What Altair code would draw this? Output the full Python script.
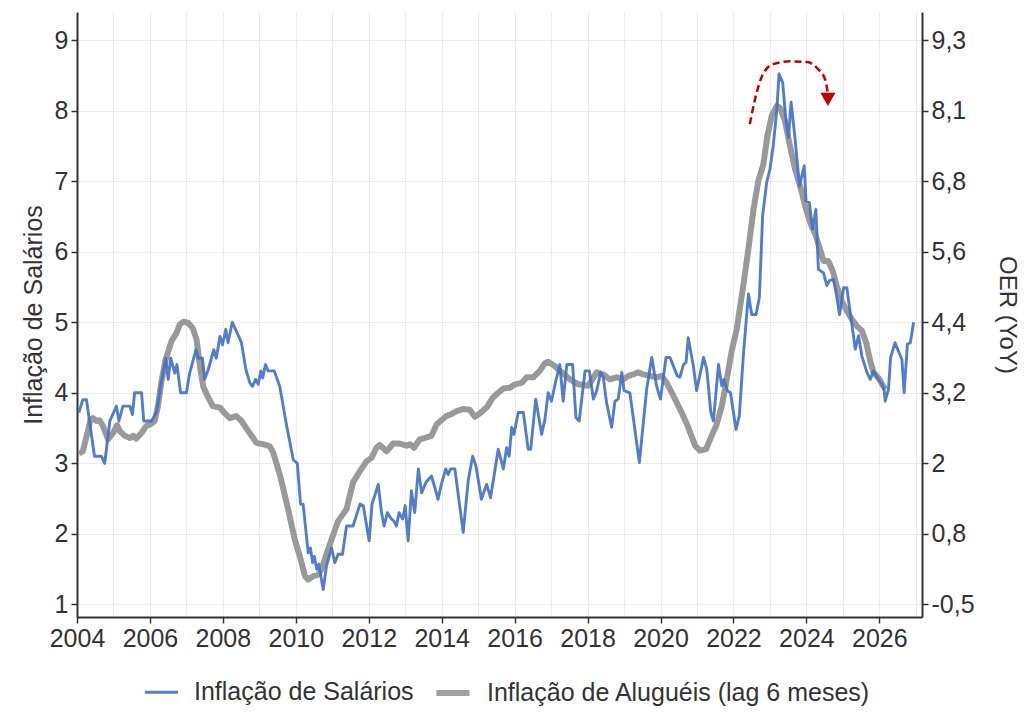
import altair as alt
import pandas as pd

S1 = "Inflação de Salários"
S2 = "Inflação de Aluguéis (lag 6 meses)"

# Wage inflation (left axis), (year, value)
BLUE = [
    (2004.05, 3.72), (2004.16, 3.90), (2004.26, 3.90), (2004.48, 3.10), (2004.67, 3.10), (2004.76, 3.00),
    (2004.90, 3.60), (2005.08, 3.81), (2005.15, 3.60), (2005.26, 3.81), (2005.45, 3.81), (2005.52, 3.69),
    (2005.58, 4.00), (2005.77, 4.00), (2005.83, 3.60), (2006.04, 3.60), (2006.18, 3.72), (2006.31, 4.14),
    (2006.43, 4.49), (2006.50, 4.19), (2006.57, 4.49), (2006.68, 4.28), (2006.74, 4.40), (2006.84, 4.00),
    (2007.00, 4.00), (2007.09, 4.28), (2007.26, 4.61), (2007.32, 4.49), (2007.44, 4.49), (2007.50, 4.19),
    (2007.60, 4.33), (2007.75, 4.61), (2007.82, 4.49), (2007.92, 4.80), (2007.99, 4.68), (2008.08, 4.90),
    (2008.14, 4.71), (2008.26, 5.00), (2008.51, 4.71), (2008.63, 4.33), (2008.74, 4.14), (2008.81, 4.09),
    (2008.90, 4.19), (2008.97, 4.12), (2009.04, 4.31), (2009.09, 4.21), (2009.17, 4.40), (2009.24, 4.31),
    (2009.41, 4.31), (2009.56, 4.09), (2009.75, 3.53), (2009.93, 3.05), (2010.04, 3.00), (2010.13, 2.42),
    (2010.20, 2.42), (2010.34, 1.73), (2010.40, 1.80), (2010.46, 1.59), (2010.51, 1.68), (2010.57, 1.50),
    (2010.63, 1.57), (2010.75, 1.21), (2010.84, 1.54), (2010.98, 1.80), (2011.07, 1.59), (2011.16, 1.71),
    (2011.28, 1.71), (2011.39, 2.11), (2011.57, 2.11), (2011.76, 2.42), (2011.85, 2.40), (2012.01, 1.90),
    (2012.09, 2.42), (2012.26, 2.70), (2012.35, 2.30), (2012.42, 2.11), (2012.51, 2.30), (2012.62, 2.21),
    (2012.69, 2.18), (2012.76, 2.11), (2012.83, 2.30), (2012.93, 2.21), (2013.00, 2.40), (2013.08, 1.90),
    (2013.17, 2.61), (2013.26, 2.30), (2013.36, 2.92), (2013.45, 2.58), (2013.57, 2.73), (2013.72, 2.82),
    (2013.81, 2.66), (2013.90, 2.49), (2013.98, 2.68), (2014.11, 2.92), (2014.18, 2.84), (2014.24, 2.92),
    (2014.36, 2.92), (2014.59, 2.02), (2014.73, 2.77), (2014.85, 3.10), (2014.94, 2.96), (2015.09, 2.49),
    (2015.23, 2.70), (2015.34, 2.51), (2015.55, 3.20), (2015.69, 2.92), (2015.78, 3.22), (2015.85, 3.10),
    (2015.92, 3.51), (2015.98, 3.41), (2016.10, 3.72), (2016.24, 3.72), (2016.37, 3.20), (2016.44, 3.20),
    (2016.58, 3.91), (2016.74, 3.41), (2016.83, 3.62), (2016.92, 4.00), (2017.01, 3.88), (2017.13, 4.17),
    (2017.24, 4.40), (2017.33, 3.88), (2017.43, 4.40), (2017.59, 4.40), (2017.68, 3.65), (2017.77, 3.60),
    (2017.93, 4.31), (2018.05, 4.31), (2018.16, 3.91), (2018.25, 4.03), (2018.36, 4.29), (2018.43, 4.22),
    (2018.52, 3.86), (2018.66, 3.51), (2018.75, 3.88), (2018.84, 3.91), (2018.94, 4.29), (2019.00, 4.03),
    (2019.16, 4.00), (2019.42, 3.01), (2019.62, 4.05), (2019.76, 4.50), (2019.89, 4.10), (2020.00, 3.91),
    (2020.15, 4.50), (2020.26, 4.50), (2020.46, 4.24), (2020.53, 4.22), (2020.63, 4.40), (2020.70, 4.43),
    (2020.76, 4.78), (2020.90, 4.38), (2020.99, 4.03), (2021.18, 4.50), (2021.27, 4.33), (2021.38, 3.72),
    (2021.45, 3.60), (2021.59, 4.40), (2021.68, 4.10), (2021.74, 4.19), (2021.83, 4.03), (2021.92, 4.00),
    (2022.07, 3.48), (2022.16, 3.67), (2022.27, 4.52), (2022.41, 5.40), (2022.50, 5.11), (2022.62, 5.11),
    (2022.71, 5.35), (2022.80, 6.51), (2022.91, 6.98), (2023.00, 7.17), (2023.09, 7.50), (2023.19, 8.02),
    (2023.25, 8.52), (2023.35, 8.40), (2023.44, 7.86), (2023.51, 7.62), (2023.58, 8.12), (2023.69, 7.60),
    (2023.81, 6.93), (2023.94, 7.22), (2023.99, 6.72), (2024.08, 6.70), (2024.17, 6.32), (2024.26, 6.60),
    (2024.33, 5.75), (2024.47, 5.70), (2024.56, 5.52), (2024.63, 5.59), (2024.74, 5.61), (2024.83, 5.37),
    (2024.91, 5.11), (2025.02, 5.49), (2025.11, 5.49), (2025.20, 5.14), (2025.29, 4.81), (2025.34, 4.62),
    (2025.43, 4.81), (2025.52, 4.52), (2025.66, 4.29), (2025.75, 4.19), (2025.84, 4.31), (2025.95, 4.21),
    (2026.05, 4.14), (2026.13, 4.05), (2026.16, 3.88), (2026.25, 4.05), (2026.31, 4.50), (2026.43, 4.71),
    (2026.62, 4.47), (2026.68, 4.00), (2026.77, 4.69), (2026.85, 4.71), (2026.94, 5.00),
]

# Rent inflation, lagged 6 months (read in left-axis units), (year, value)
GRAY = [
    (2004.05, 3.14), (2004.16, 3.17), (2004.30, 3.46), (2004.37, 3.62), (2004.44, 3.64), (2004.53, 3.60),
    (2004.62, 3.61), (2004.71, 3.53), (2004.85, 3.34), (2004.99, 3.43), (2005.10, 3.54), (2005.17, 3.46),
    (2005.31, 3.39), (2005.45, 3.36), (2005.54, 3.39), (2005.63, 3.35), (2005.77, 3.43), (2005.90, 3.53),
    (2006.04, 3.56), (2006.13, 3.60), (2006.22, 3.81), (2006.31, 4.14), (2006.43, 4.47), (2006.59, 4.73),
    (2006.73, 4.85), (2006.82, 4.97), (2006.93, 5.01), (2007.05, 4.99), (2007.17, 4.92), (2007.28, 4.75),
    (2007.37, 4.38), (2007.46, 4.09), (2007.60, 3.93), (2007.73, 3.81), (2007.92, 3.79), (2008.05, 3.71),
    (2008.19, 3.64), (2008.37, 3.67), (2008.51, 3.60), (2008.69, 3.46), (2008.83, 3.36), (2008.92, 3.29),
    (2009.10, 3.27), (2009.29, 3.24), (2009.38, 3.15), (2009.56, 2.84), (2009.67, 2.61), (2009.84, 2.23),
    (2009.97, 1.92), (2010.11, 1.68), (2010.25, 1.40), (2010.34, 1.35), (2010.48, 1.40), (2010.61, 1.42),
    (2010.71, 1.50), (2010.84, 1.71), (2010.98, 1.92), (2011.16, 2.18), (2011.39, 2.35), (2011.57, 2.73),
    (2011.76, 2.89), (2011.94, 3.03), (2012.08, 3.08), (2012.21, 3.22), (2012.30, 3.26), (2012.49, 3.17),
    (2012.67, 3.28), (2012.85, 3.28), (2013.04, 3.25), (2013.13, 3.27), (2013.24, 3.22), (2013.40, 3.34),
    (2013.54, 3.36), (2013.72, 3.39), (2013.86, 3.55), (2013.99, 3.61), (2014.13, 3.67), (2014.27, 3.70),
    (2014.41, 3.74), (2014.59, 3.77), (2014.77, 3.76), (2014.91, 3.66), (2015.05, 3.71), (2015.23, 3.79),
    (2015.40, 3.93), (2015.55, 4.00), (2015.69, 4.06), (2015.87, 4.07), (2016.01, 4.12), (2016.19, 4.14),
    (2016.33, 4.22), (2016.51, 4.22), (2016.69, 4.31), (2016.83, 4.42), (2016.92, 4.44), (2017.10, 4.38),
    (2017.29, 4.29), (2017.52, 4.19), (2017.75, 4.12), (2018.02, 4.10), (2018.25, 4.29), (2018.43, 4.26),
    (2018.61, 4.19), (2018.80, 4.22), (2018.98, 4.19), (2019.12, 4.24), (2019.25, 4.26), (2019.39, 4.29),
    (2019.53, 4.26), (2019.71, 4.24), (2019.89, 4.22), (2020.03, 4.24), (2020.17, 4.14), (2020.35, 3.96),
    (2020.58, 3.72), (2020.76, 3.51), (2020.95, 3.25), (2021.08, 3.18), (2021.25, 3.20), (2021.40, 3.39),
    (2021.54, 3.55), (2021.68, 3.81), (2021.80, 4.14), (2021.95, 4.59), (2022.09, 4.90), (2022.27, 5.52),
    (2022.41, 6.04), (2022.55, 6.60), (2022.68, 7.00), (2022.82, 7.24), (2022.93, 7.64), (2023.05, 7.93),
    (2023.19, 8.07), (2023.28, 8.04), (2023.41, 7.86), (2023.53, 7.55), (2023.69, 7.17), (2023.85, 6.89),
    (2023.99, 6.60), (2024.12, 6.39), (2024.24, 6.25), (2024.36, 6.06), (2024.47, 5.87), (2024.60, 5.87),
    (2024.72, 5.73), (2024.83, 5.52), (2024.97, 5.30), (2025.11, 5.16), (2025.25, 5.04), (2025.38, 4.95),
    (2025.52, 4.88), (2025.64, 4.71), (2025.75, 4.45), (2025.84, 4.29), (2025.98, 4.21), (2026.10, 4.10),
    (2026.16, 4.05),
]

# Right axis (OER YoY) labels at left-axis ticks 1..9
LEFT_TICKS = [1, 2, 3, 4, 5, 6, 7, 8, 9]
OER_LABELS = ["-0,5", "0,8", "2", "3,2", "4,4", "5,6", "6,8", "8,1", "9,3"]

# Dashed arrow annotation (year, value)
ARROW = [(2022.45, 7.81), (2022.59, 8.16), (2022.81, 8.52), (2023.09, 8.66), (2023.55, 8.70),
         (2024.02, 8.69), (2024.32, 8.59), (2024.51, 8.45), (2024.59, 8.24)]
ARROW_HEAD = [(2024.59, 8.16)]

X_DOMAIN = [2004, 2027.17]
Y_DOMAIN = [0.82, 9.4]
FONT = "Liberation Sans"
TXT = "#333333"

blue_df = pd.DataFrame(BLUE, columns=["ano", "valor"])
blue_df["serie"] = S1
gray_df = pd.DataFrame(GRAY, columns=["ano", "valor"])
gray_df["serie"] = S2
arrow_df = pd.DataFrame(ARROW, columns=["ano", "valor"])
head_df = pd.DataFrame(ARROW_HEAD, columns=["ano", "valor"])

x_enc = alt.X(
    "ano:Q",
    scale=alt.Scale(domain=X_DOMAIN, nice=False, zero=False),
    axis=alt.Axis(
        values=list(range(2004, 2028)),
        format="d",
        labelExpr="datum.value % 2 === 0 ? datum.label : ''",
        tickOpacity={"condition": {"test": "datum.value % 2 !== 0", "value": 0}, "value": 1},
        labelOverlap=False,
        labelFlush=False,
        grid=True,
        title=None,
    ),
)

half_ticks = [v / 2 for v in range(2, 19)]
y_left = alt.Y(
    "valor:Q",
    scale=alt.Scale(domain=Y_DOMAIN, nice=False, zero=False),
    axis=alt.Axis(
        orient="left",
        values=half_ticks,
        format="d",
        labelExpr="datum.value % 1 === 0 ? datum.label : ''",
        tickOpacity={"condition": {"test": "datum.value % 1 !== 0", "value": 0}, "value": 1},
        labelOverlap=False,
        labelFlush=False,
        grid=True,
        title="Inflação de Salários",
        titleFontSize=25,
        titlePadding=8,
    ),
)

oer_expr = "[" + ",".join("'" + s + "'" for s in OER_LABELS) + "][round(datum.value) - 1]"
y_right = alt.Y(
    "valor:Q",
    scale=alt.Scale(domain=Y_DOMAIN, nice=False, zero=False),
    axis=alt.Axis(
        orient="right",
        values=LEFT_TICKS,
        labelExpr=oer_expr,
        labelOverlap=False,
        labelFlush=False,
        grid=False,
        title="OER (YoY)",
        titlePadding=20,
    ),
)

legend = alt.Legend(
    title=None,
    orient="none",
    legendX=66,
    legendY=661,
    direction="horizontal",
    symbolType="stroke",
    symbolSize=1100,
    labelFontSize=25,
    labelFont=FONT,
    labelColor=TXT,
    labelLimit=600,
    labelOffset=14,
    columnPadding=10,
)
color_enc = alt.Color("serie:N", scale=alt.Scale(domain=[S1, S2], range=["#4472c4", "#999999"]), legend=legend)
sw_enc = alt.StrokeWidth("serie:N", scale=alt.Scale(domain=[S1, S2], range=[2.9, 6.0]), legend=legend)

gray = alt.Chart(gray_df).mark_line(strokeJoin="round").encode(
    x=x_enc, y=y_right, color=color_enc, strokeWidth=sw_enc
)
blue = alt.Chart(blue_df).mark_line(strokeJoin="round", opacity=0.92).encode(
    x=x_enc, y=y_left, color=color_enc, strokeWidth=sw_enc
)
arrow = alt.Chart(arrow_df).mark_line(
    color="#c00000", strokeWidth=2.5, strokeDash=[7, 4], interpolate="monotone"
).encode(x=x_enc, y=y_left)
head = alt.Chart(head_df).mark_point(
    shape="triangle-down", filled=True, size=230, color="#c00000", opacity=1
).encode(x=x_enc, y=y_left)

left = alt.layer(blue, arrow, head)

chart = (
    alt.layer(gray, left)
    .resolve_scale(y="independent")
    .properties(
        width=845,
        height=605,
        autosize=alt.AutoSizeParams(type="none"),
        padding={"left": 69, "top": 4, "right": 105, "bottom": 91},
        background="white",
    )
    .configure_view(stroke=None)
    .configure_axis(
        labelFont=FONT,
        labelFontSize=25,
        labelColor=TXT,
        titleFont=FONT,
        titleFontSize=24,
        titleFontWeight="normal",
        titleColor=TXT,
        domainColor=TXT,
        domainWidth=2,
        tickColor=TXT,
        tickWidth=1.5,
        tickSize=6,
        gridColor="#ebebeb",
        gridWidth=1,
        labelPadding=3,
    )
)

chart.save("out.html", embed_options={"renderer": "svg", "actions": False})
